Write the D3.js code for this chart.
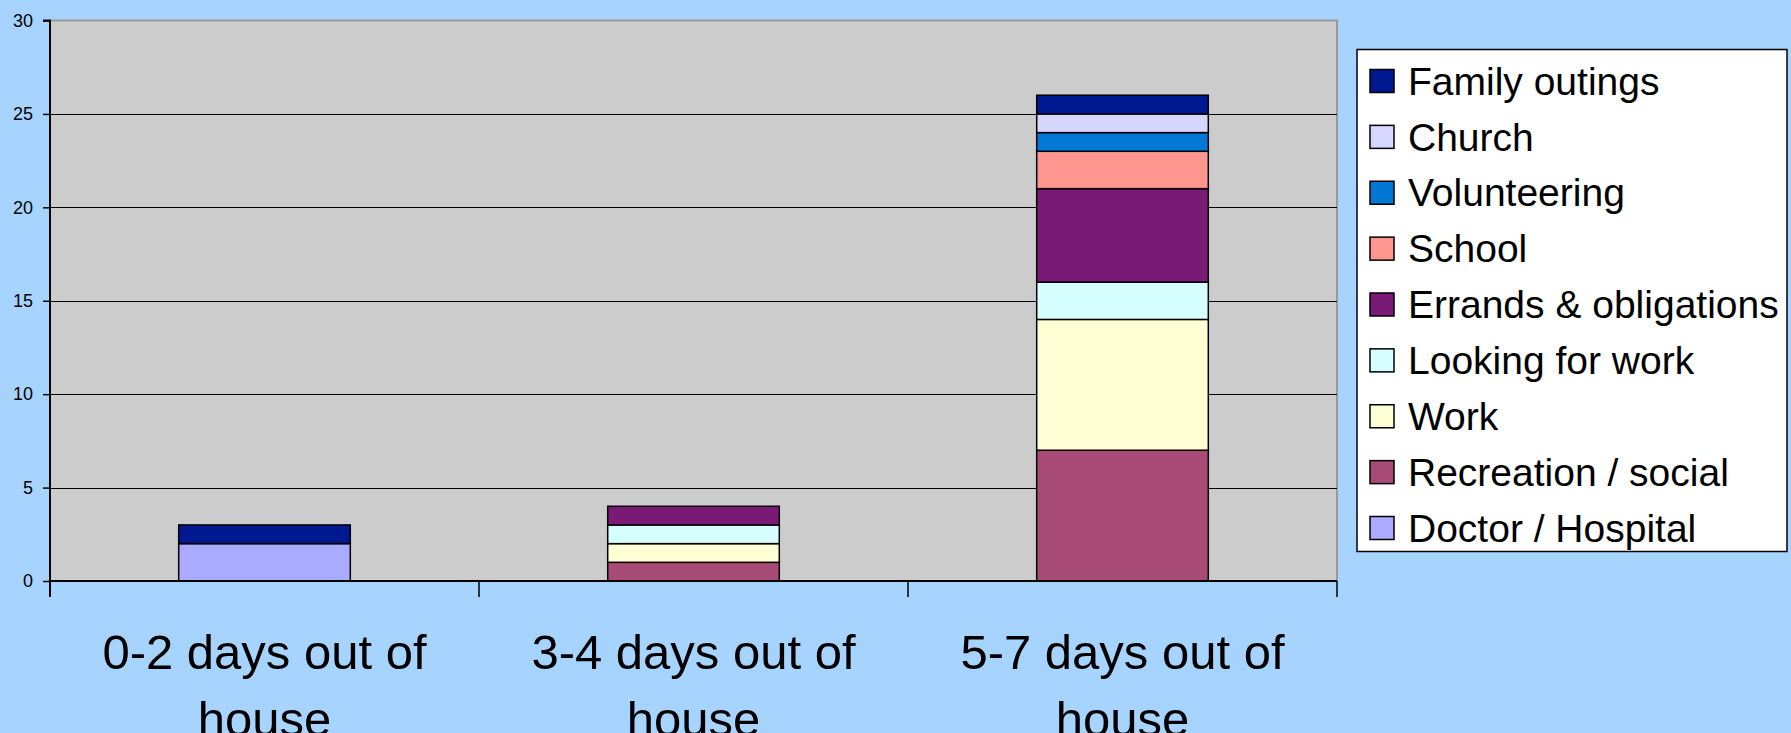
<!DOCTYPE html>
<html>
<head>
<meta charset="utf-8">
<script src="https://cdn.jsdelivr.net/npm/d3@7"></script>
<style>
  html, body { margin: 0; padding: 0; background: #a6d4ff; overflow: hidden; }
  svg { display: block; font-family: "Liberation Sans", Arial, sans-serif; }
</style>
</head>
<body>
<div id="chart"></div>
<script>
// ─── Data ──────────────────────────────────────────────────────────────
const categories = ['0-2 days out of house', '3-4 days out of house', '5-7 days out of house'];
// bottom to top stacking order
const seriesNames = [
  'Doctor / Hospital', 'Recreation / social', 'Work', 'Looking for work',
  'Errands & obligations', 'School', 'Volunteering', 'Church', 'Family outings'
];
const doctorHospital   = [2, 0, 0];
const recreationSocial = [0, 1, 7];
const work             = [0, 1, 7];
const lookingForWork   = [0, 1, 2];
const errands          = [0, 1, 5];
const school           = [0, 0, 2];
const volunteering     = [0, 0, 1];
const church           = [0, 0, 1];
const familyOutings    = [1, 0, 1];
const yTicks = [0, 5, 10, 15, 20, 25, 30];

const seriesValues = [doctorHospital, recreationSocial, work, lookingForWork,
  errands, school, volunteering, church, familyOutings];
const seriesColors = ['#aaaaff', '#a84b76', '#ffffd6', '#d6ffff',
  '#7a1a77', '#ff9690', '#0078d4', '#d6d6ff', '#001890'];

// ─── Layout ────────────────────────────────────────────────────────────
const W = 1791, H = 733;
const plot = { left: 50, right: 1337, top: 20.5, bottom: 581 };

const svg = d3.select('#chart').append('svg')
  .attr('width', W).attr('height', H);

svg.append('rect').attr('width', W).attr('height', H).attr('fill', '#a6d4ff');

const x = d3.scaleBand().domain(categories).range([plot.left, plot.right]).padding(0);
const y = d3.scaleLinear().domain([0, 30]).range([plot.bottom, plot.top]);

// plot area
svg.append('rect')
  .attr('x', plot.left).attr('y', plot.top)
  .attr('width', plot.right - plot.left).attr('height', plot.bottom - plot.top)
  .attr('fill', '#cccccc');
// gray border top/right
svg.append('path')
  .attr('d', `M${plot.left},${plot.top}H${plot.right}V${plot.bottom}`)
  .attr('fill', 'none').attr('stroke', '#999999').attr('stroke-width', 2);

// gridlines
svg.append('g').selectAll('line')
  .data(yTicks.filter(t => t > 0 && t < 30))
  .join('line')
  .attr('x1', plot.left).attr('x2', plot.right)
  .attr('y1', d => Math.round(y(d)) + 0.5).attr('y2', d => Math.round(y(d)) + 0.5)
  .attr('stroke', '#000').attr('stroke-width', 1);

// stacked bars
const rows = categories.map((c, i) => {
  const r = { cat: c };
  seriesNames.forEach((s, k) => { r[s] = seriesValues[k][i]; });
  return r;
});
const stacked = d3.stack().keys(seriesNames)(rows);
const barW = x.bandwidth() * 0.4;

svg.append('g').selectAll('g')
  .data(stacked)
  .join('g')
  .attr('fill', (d, i) => seriesColors[i])
  .selectAll('rect')
  .data(d => d.filter(p => p[1] - p[0] > 0))
  .join('rect')
  .attr('x', d => x(d.data.cat) + (x.bandwidth() - barW) / 2)
  .attr('y', d => y(d[1]))
  .attr('width', barW)
  .attr('height', d => y(d[0]) - y(d[1]))
  .attr('stroke', '#000').attr('stroke-width', 1.5);

// y axis
const yAxis = d3.axisLeft(y).tickValues(yTicks).tickSize(7).tickPadding(10);
svg.append('g')
  .attr('transform', `translate(${plot.left},0)`)
  .call(yAxis)
  .call(g => {
    g.select('.domain').attr('stroke', '#000').attr('stroke-width', 2)
      .attr('d', `M-7,${plot.top}H0V${plot.bottom + 16}`);
    g.selectAll('line').attr('stroke', '#000').attr('stroke-width', 1.5);
    g.selectAll('text').attr('fill', '#000').attr('font-size', 18)
      .attr('font-family', '"Liberation Sans", Arial, sans-serif');
  });

// x axis line and ticks at category boundaries
svg.append('line')
  .attr('x1', plot.left).attr('x2', plot.right)
  .attr('y1', plot.bottom).attr('y2', plot.bottom)
  .attr('stroke', '#000').attr('stroke-width', 2);
const bounds = categories.map(c => x(c)).concat([plot.right]);
svg.append('g').selectAll('line')
  .data(bounds.slice(1))
  .join('line')
  .attr('x1', d => d).attr('x2', d => d)
  .attr('y1', plot.bottom).attr('y2', plot.bottom + 16)
  .attr('stroke', '#000').attr('stroke-width', 1.5);

// category labels (wrapped in two lines, second line runs off the bottom as in the original)
const catLabels = svg.append('g').selectAll('text')
  .data(categories)
  .join('text')
  .attr('x', d => x(d) + x.bandwidth() / 2)
  .attr('y', 669)
  .attr('text-anchor', 'middle')
  .attr('font-size', 49)
  .attr('fill', '#000');
catLabels.each(function (d) {
  const idx = d.lastIndexOf(' ');
  const t = d3.select(this);
  t.append('tspan').attr('x', x(d) + x.bandwidth() / 2).text(d.slice(0, idx));
  t.append('tspan').attr('x', x(d) + x.bandwidth() / 2).attr('dy', 67).text(d.slice(idx + 1));
});

// legend
const legend = { x: 1357, y: 49.5, w: 430, h: 502 };
svg.append('rect')
  .attr('x', legend.x).attr('y', legend.y)
  .attr('width', legend.w).attr('height', legend.h)
  .attr('fill', '#fff').attr('stroke', '#000').attr('stroke-width', 1.5);

const legendOrder = seriesNames.map((s, i) => i).reverse();
const legendY = d3.scalePoint().domain(legendOrder).range([81, 528]);
const items = svg.append('g').selectAll('g')
  .data(legendOrder)
  .join('g')
  .attr('transform', i => `translate(${legend.x + 13},${legendY(i)})`);
items.append('rect')
  .attr('x', 0).attr('y', -11.5).attr('width', 24).attr('height', 23)
  .attr('fill', i => seriesColors[i]).attr('stroke', '#000').attr('stroke-width', 1.5);
items.append('text')
  .attr('x', 38).attr('y', 0).attr('dy', '0.35em')
  .attr('font-size', 39).attr('fill', '#000')
  .text(i => seriesNames[i]);
</script>
</body>
</html>
